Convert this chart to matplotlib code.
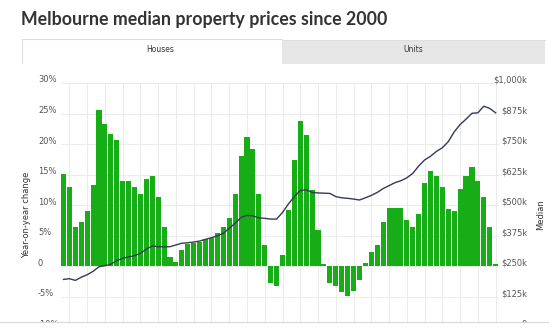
import matplotlib
matplotlib.use("Agg")
import matplotlib.pyplot as plt
from matplotlib.patches import Rectangle
from matplotlib.lines import Line2D
from matplotlib.transforms import ScaledTranslation
import numpy as np

# ---------------- data ----------------
yoy_change = [15.1, 12.9, 6.4, 7.2, 9.1, 13.3, 25.6, 23.3, 21.6, 20.7,
              14.0, 13.9, 12.9, 11.8, 14.2, 14.8, 11.4, 6.4, 1.5, 0.7,
              2.7, 3.7, 3.8, 3.9, 4.5, 4.7, 5.4, 6.4, 7.9, 11.9,
              18.1, 21.2, 19.2, 11.8, 3.4, -2.7, -3.3, 1.8, 9.2, 17.4,
              23.7, 21.5, 12.5, 5.9, 0.4, -2.7, -3.3, -4.2, -4.8, -4.1,
              -2.2, 0.55, 2.3, 3.4, 7.3, 9.5, 9.6, 9.5, 7.6, 6.5,
              8.6, 13.7, 15.6, 14.8, 13.0, 9.4, 9.1, 12.7, 14.7, 16.3,
              14.0, 11.3, 6.5, 0.4]
median_k = [196, 199, 192, 205, 215, 229, 248, 252, 258, 273,
            282, 288, 293, 303, 320, 333, 330, 329, 330, 337,
            344, 346, 349, 353, 360, 367, 374, 385, 405, 426,
            450, 458, 456, 448, 446, 443, 443, 470, 505, 535,
            560, 563, 552, 550, 549, 548, 535, 530, 528, 525,
            521, 530, 540, 552, 568, 580, 592, 600, 612, 630,
            660, 685, 700, 720, 735, 760, 800, 830, 852, 876,
            878, 905, 896, 878]
left_ticks = [-10, -5, 0, 5, 10, 15, 20, 25, 30]
left_labels = ["-10%", "-5%", "0", "5%", "10%", "15%", "20%", "25%", "30%"]
right_ticks = [0, 125, 250, 375, 500, 625, 750, 875, 1000]
right_labels = ["0", "$125k", "$250k", "$375k", "$500k", "$625k", "$750k", "$875k", "$1,000k"]
title = "Melbourne median property prices since 2000"
tabs = ["Houses", "Units"]
left_title = "Year-on-year change"
right_title = "Median"

W, H = 554, 332
fig = plt.figure(figsize=(W / 100, H / 100), dpi=100)
fig.patch.set_facecolor("white")

def fx(px):
    return px / W

def fy(py):
    return 1 - py / H

# plot area
pl, pr, pt, pb = 60.5, 498.6, 83.0, 327.3
ax = fig.add_axes([fx(pl), fy(pb), fx(pr - pl), (pb - pt) / H])
ax2 = ax.twinx()

n = len(yoy_change)
x = np.arange(n)
grid_c = "#ebebeb"

ax.set_xlim(-0.5, n - 0.5)
ax.set_ylim(-10, 30)
ax2.set_ylim(0, 1000)

for gx in range(1, n, 3):
    ax.axvline(gx, color=grid_c, lw=0.7, zorder=0)
for gy in left_ticks:
    ax.axhline(gy, color=grid_c, lw=0.7, zorder=0)

ax.bar(x, yoy_change, width=0.86, color="#16ad16", zorder=2, linewidth=0)
ax2.plot(x, median_k, color="#353a55", lw=1.0, zorder=3)

for a in (ax, ax2):
    for s in a.spines.values():
        s.set_visible(False)
    a.set_xticks([])
    a.patch.set_alpha(0)

ax.set_yticks(left_ticks)
ax.set_yticklabels(left_labels, fontsize=6, color="#555555", ha="left")
ax.tick_params(axis="y", length=0, pad=(pl - 38) * 0.72)
ax2.set_yticks(right_ticks)
ax2.set_yticklabels(right_labels, fontsize=6, color="#555555", ha="right")
ax2.tick_params(axis="y", length=0, pad=(527 - pr) * 0.72)

off = ScaledTranslation(0, 4 / 100, fig.dpi_scale_trans)
for lab in ax.get_yticklabels() + ax2.get_yticklabels():
    lab.set_transform(lab.get_transform() + off)

# axis titles
fig.text(fx(27), fy(215), left_title, rotation=90, ha="center", va="center",
         fontsize=6, color="#333333")
fig.text(fx(541), fy(215), right_title, rotation=90, ha="center", va="center",
         fontsize=6, color="#333333")

# title, sized to span the same width as the reference (~364 px)
t = fig.text(fx(21), fy(24.5), title, ha="left", va="baseline", fontsize=13.5,
             fontweight="bold", family="Lato", color="#333333")
r = fig.canvas.get_renderer()
wpx = t.get_window_extent(renderer=r).width
t.set_fontsize(13.5 * 364.0 / wpx)

# tabs
fig.add_artist(Rectangle((fx(282), fy(64)), fx(545 - 282), (64 - 40) / H,
                         transform=fig.transFigure, facecolor="#e6e6e6",
                         edgecolor="none", zorder=1))
edge = "#dddddd"
fig.add_artist(Line2D([fx(22), fx(22), fx(282)], [fy(63), fy(38.5), fy(38.5)],
                      transform=fig.transFigure, color=edge, lw=0.8))
fig.add_artist(Line2D([fx(282), fx(545)], [fy(39.5), fy(39.5)],
                      transform=fig.transFigure, color=edge, lw=0.6))
fig.text(fx(160), fy(50), tabs[0], ha="center", va="center", fontsize=5.5, color="#333333")
fig.text(fx(413), fy(50), tabs[1], ha="center", va="center", fontsize=5.5, color="#333333")

# bottom border of container (cuts the lowest labels)
fig.add_artist(Rectangle((0, 0), 1, (H - 322.5) / H, transform=fig.transFigure,
                         facecolor="white", edgecolor="none", zorder=10))
fig.add_artist(Line2D([0, fx(548)], [fy(322.3), fy(322.3)], transform=fig.transFigure,
                      color="#d8d8d8", lw=0.8, zorder=11))

fig.savefig("out.png", dpi=100, facecolor="white")
